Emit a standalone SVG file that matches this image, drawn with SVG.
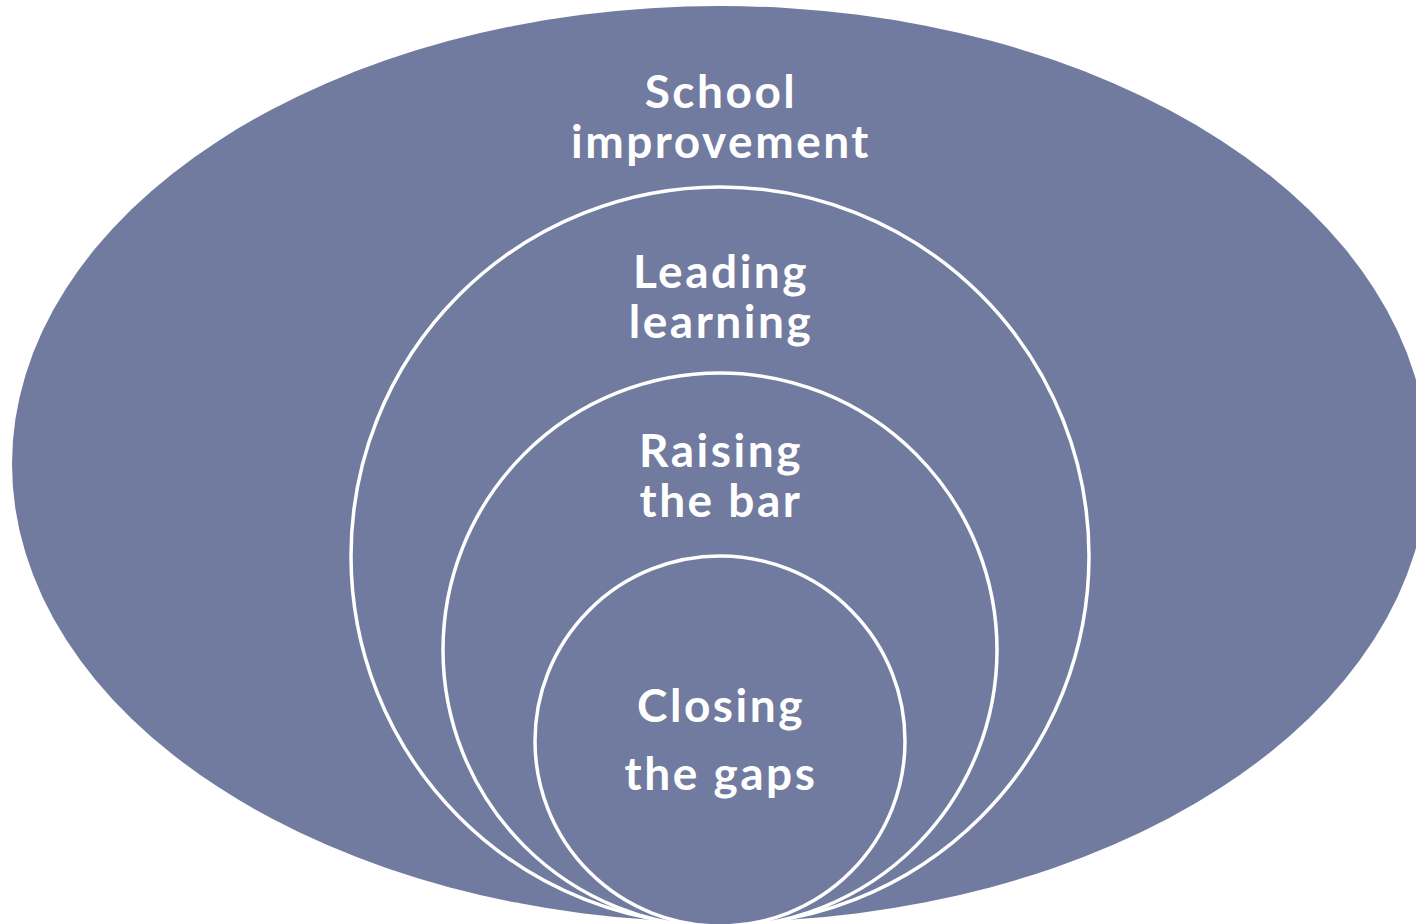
<svg xmlns="http://www.w3.org/2000/svg" width="1416" height="924" viewBox="0 0 1416 924">
  <style>
    .shape { fill: #717a9f; }
    .ring { fill: #717a9f; stroke: #ffffff; stroke-width: 3.5; }
    .label { font-family: Lato, "Open Sans", "Liberation Sans", sans-serif; font-weight: bold; font-size: 46px; letter-spacing: 2.5px; fill: #ffffff; text-anchor: middle; }
  </style>
  <rect width="1416" height="924" fill="#ffffff"/>
  <g id="school-improvement">
    <ellipse class="shape" cx="720" cy="464" rx="708" ry="458"/>
    <text class="label" x="721" y="108">School</text>
    <text class="label" x="721" y="158">improvement</text>
  </g>
  <g id="leading-learning">
    <circle class="ring" cx="720" cy="556" r="369"/>
    <text class="label" x="721" y="288">Leading</text>
    <text class="label" x="721" y="338">learning</text>
  </g>
  <g id="raising-the-bar">
    <circle class="ring" cx="720" cy="650" r="277"/>
    <text class="label" x="721" y="467">Raising</text>
    <text class="label" x="721" y="517">the bar</text>
  </g>
  <g id="closing-the-gaps">
    <circle class="ring" cx="720" cy="741" r="185"/>
    <text class="label" x="721" y="722">Closing</text>
    <text class="label" x="721" y="790">the gaps</text>
  </g>
  <g id="connectors"/>
</svg>
